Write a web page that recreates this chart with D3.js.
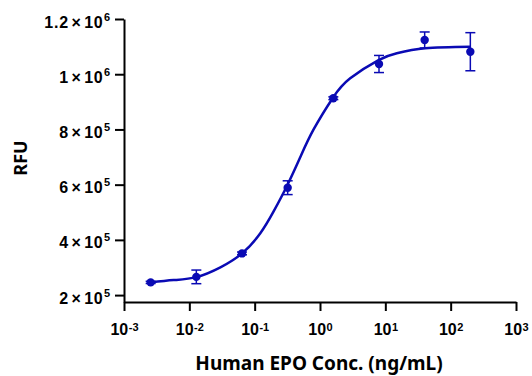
<!DOCTYPE html>
<html>
<head>
<meta charset="utf-8">
<script src="https://cdn.jsdelivr.net/npm/d3@7"></script>
<style>
  body { margin: 0; background: #fff; }
  svg { display: block; font-family: "Noto Sans", sans-serif; }
</style>
</head>
<body>
<div id="chart"></div>
<script>
// measured points (mean +/- error), 5-fold dilutions from 200 ng/mL
const conc = [0.00256, 0.0128, 0.064, 0.32, 1.6, 8, 40, 200];
const rfu = [246000, 266000, 351000, 589000, 913000, 1037000, 1124000, 1081500];
const rfuErr = [4000, 24700, 5000, 25000, 5000, 31000, 29000, 69000];

// fitted curve
const curveConc = [0.00254, 0.00577, 0.0129, 0.0299, 0.0641, 0.122, 0.195, 0.313,
    0.5, 0.798, 1.58, 2.9, 7.87, 15.0, 40.7, 199];
const curveRfu = [246000, 254300, 265200, 300400, 351100, 424000, 503000, 596000,
    700000, 800000, 915000, 985000, 1051000, 1075700, 1093800, 1099600];

const yTicks = [[2, 5], [4, 5], [6, 5], [8, 5], [1, 6], [1.2, 6]];
const xTicks = [-3, -2, -1, 0, 1, 2, 3];

const width = 532, height = 376;
const color = '#0a0ab4';

const svg = d3.select('#chart')
    .append('svg')
    .attr('width', width)
    .attr('height', height);

const xScale = d3.scaleLog()
    .domain([1e-3, 1e3])
    .range([124, 516]);

const yScale = d3.scaleLinear()
    .domain([175000, 1200000])
    .range([302, 19]);

// y axis
const yAxis = svg.append('g')
    .attr('transform', `translate(${124},0)`)
    .call(d3.axisLeft(yScale)
        .tickValues(yTicks.map(t => t[0] * Math.pow(10, t[1])))
        .tickFormat('')
        .tickSize(9)
        .tickSizeOuter(0));

yAxis.selectAll('.tick').each(function (d, i) {
    const t = yTicks[i];
    const txt = d3.select(this).append('text')
        .attr('x', -13)
        .attr('y', 8)
        .attr('fill', '#000')
        .attr('text-anchor', 'end')
        .style('font-size', '16px')
        .style('font-weight', 'bold')
        .style('letter-spacing', '0.8px');
    txt.append('tspan').text(t[0]);
    txt.append('tspan').attr('dx', 2.5).text('\u00d7');
    txt.append('tspan').attr('dx', 2.5).text('10');
    txt.append('tspan')
        .attr('dy', -7)
        .attr('dx', 0.5)
        .style('font-size', '11px')
        .text(t[1]);
});

// x axis
const xAxis = svg.append('g')
    .attr('transform', `translate(0,${302})`)
    .call(d3.axisBottom(xScale)
        .tickValues(xTicks.map(e => Math.pow(10, e)))
        .tickFormat('')
        .tickSize(9)
        .tickSizeOuter(0));

xAxis.selectAll('.tick').each(function (d, i) {
    const txt = d3.select(this).append('text')
        .attr('y', 33)
        .attr('fill', '#000')
        .attr('text-anchor', 'middle')
        .style('font-size', '16px')
        .style('font-weight', 'bold');
    txt.append('tspan').text('10');
    txt.append('tspan')
        .attr('dy', -4)
        .attr('dx', 0.5)
        .style('font-size', '11px')
        .text(xTicks[i] < 0 ? '-' + Math.abs(xTicks[i]) : xTicks[i]);
});

svg.selectAll('.domain, .tick line')
    .attr('stroke', '#000')
    .attr('stroke-width', 2);

// axis titles
svg.append('text')
    .attr('x', 319)
    .attr('y', 370)
    .attr('text-anchor', 'middle')
    .style('font-size', '19px')
    .style('font-weight', 'bold')
    .text('Human EPO Conc. (ng/mL)');

svg.append('text')
    .attr('transform', `translate(${27},${158}) rotate(-90)`)
    .attr('text-anchor', 'middle')
    .style('font-size', '18px')
    .style('font-weight', 'bold')
    .text('RFU');

// fitted curve
const line = d3.line()
    .x((d, i) => xScale(curveConc[i]))
    .y((d, i) => yScale(curveRfu[i]))
    .curve(d3.curveNatural);

svg.append('path')
    .datum(curveRfu)
    .attr('d', line)
    .attr('fill', 'none')
    .attr('stroke', color)
    .attr('stroke-width', 2.5);

// error bars
const pts = svg.selectAll('.pt')
    .data(conc)
    .enter()
    .append('g')
    .attr('class', 'pt');

pts.append('line')
    .attr('x1', d => xScale(d))
    .attr('x2', d => xScale(d))
    .attr('y1', (d, i) => yScale(rfu[i] + rfuErr[i]))
    .attr('y2', (d, i) => yScale(rfu[i] - rfuErr[i]))
    .attr('stroke', color)
    .attr('stroke-width', 1.5);

[1, -1].forEach(s => {
    pts.append('line')
        .attr('x1', d => xScale(d) - 5)
        .attr('x2', d => xScale(d) + 5)
        .attr('y1', (d, i) => yScale(rfu[i] + s * rfuErr[i]))
        .attr('y2', (d, i) => yScale(rfu[i] + s * rfuErr[i]))
        .attr('stroke', color)
        .attr('stroke-width', 1.5);
});

pts.append('circle')
    .attr('cx', d => xScale(d))
    .attr('cy', (d, i) => yScale(rfu[i]))
    .attr('r', 4.2)
    .attr('fill', color);
</script>
</body>
</html>
